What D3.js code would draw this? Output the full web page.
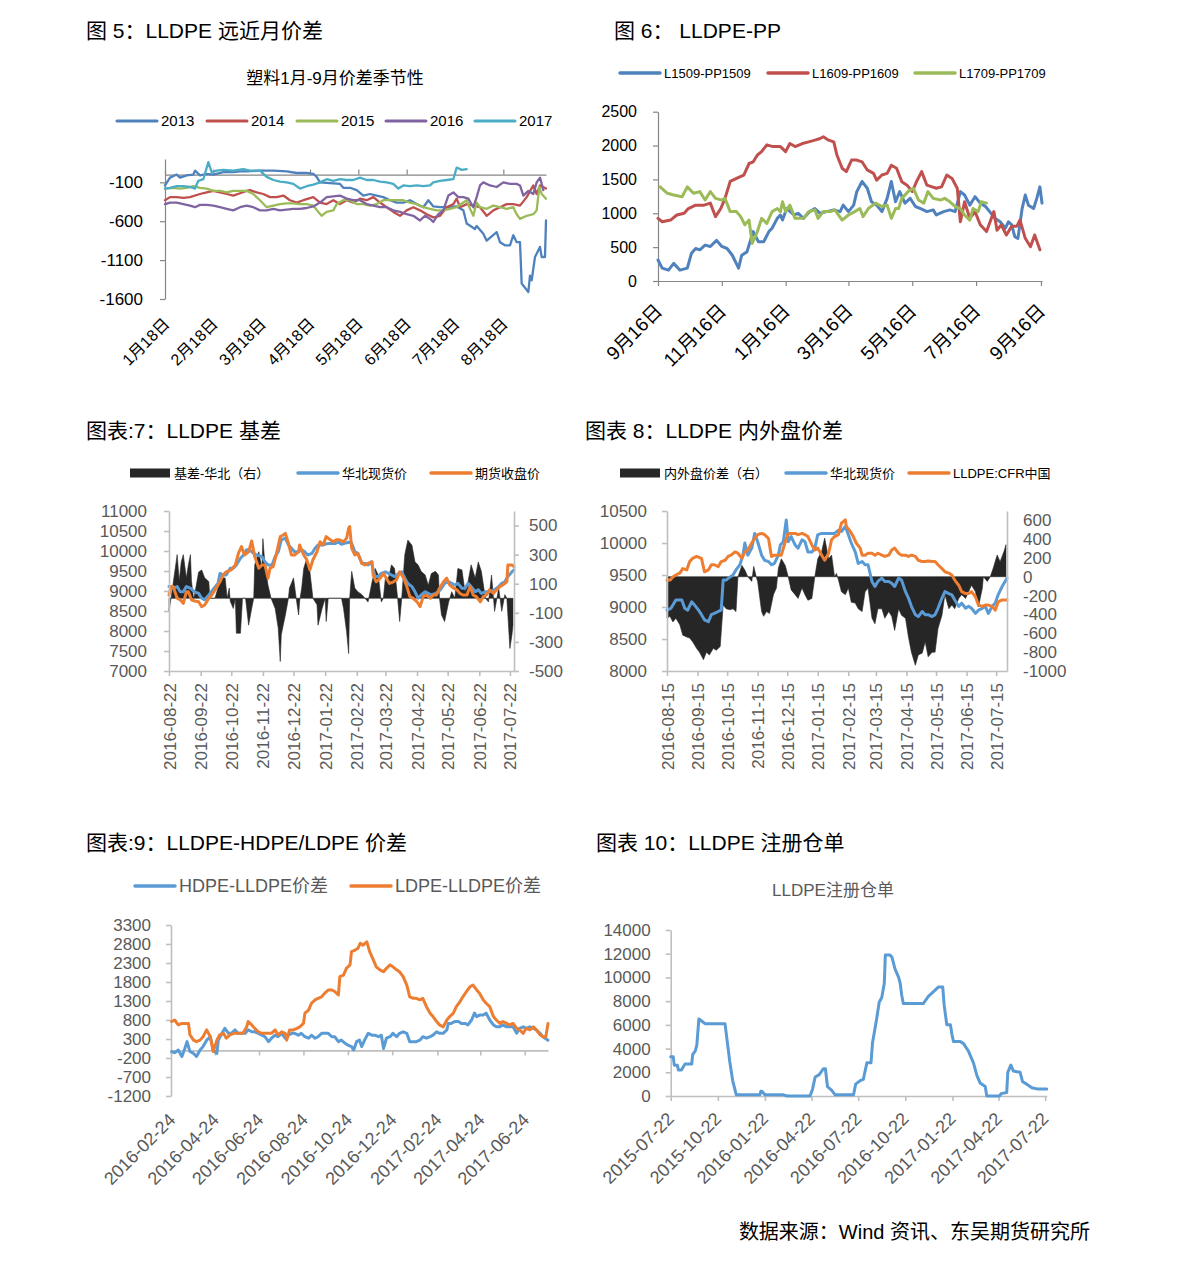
<!DOCTYPE html>
<html><head><meta charset="utf-8">
<script src="https://cdn.jsdelivr.net/npm/d3@7"></script>
<style>body{margin:0;background:#fff}</style>
</head><body>
<svg id="c" width="1191" height="1264"></svg>
<script>
// ---------------- DATA ----------------
// Panel 1 (图5): x = trading-day index from 1月18日, value = 1月-9月 spread
const p1Series = ["2013","2014","2015","2016","2017"];
const p1XTickIdx = [0,29,58,87,116,145,174,203];
const p1XLabels = ["1月18日","2月18日","3月18日","4月18日","5月18日","6月18日","7月18日","8月18日"];
const p1YTicks = [-1600,-1100,-600,-100];
const s2013 = [[0,-140],[3,-40],[7,0],[9,-40],[13,-10],[17,0],[18,50],[21,-10],[25,10],[29,0],[35,30],[41,30],[45,40],[49,40],[57,50],[65,50],[73,40],[79,20],[85,20],[89,10],[91,-30],[93,-100],[99,-110],[105,-120],[107,-170],[111,-170],[115,-200],[119,-270],[123,-250],[127,-270],[131,-290],[135,-330],[139,-360],[143,-360],[147,-330],[151,-380],[155,-420],[158,-330],[161,-410],[165,-420],[169,-420],[175,-410],[179,-460],[181,-630],[186,-700],[187,-660],[191,-760],[193,-850],[199,-740],[201,-870],[204,-910],[207,-910],[209,-780],[211,-870],[213,-870],[214,-1400],[218,-1510],[219,-1300],[220,-1360],[222,-1060],[225,-930],[226,-1060],[228,-1060],[228.6,-590]];
const s2014 = [[0,-330],[3,-290],[7,-290],[11,-300],[15,-290],[21,-250],[25,-230],[29,-210],[33,-230],[37,-250],[41,-270],[45,-240],[49,-210],[51,-200],[55,-230],[59,-250],[63,-290],[67,-290],[71,-270],[75,-330],[79,-360],[83,-330],[89,-290],[93,-360],[97,-380],[101,-330],[105,-380],[109,-330],[113,-360],[117,-310],[121,-330],[125,-290],[129,-360],[133,-420],[137,-480],[141,-530],[145,-460],[149,-420],[153,-460],[157,-510],[161,-550],[165,-530],[169,-420],[173,-380],[175,-310],[177,-420],[181,-380],[185,-400],[189,-420],[193,-530],[197,-460],[201,-420],[205,-380],[209,-380],[213,-400],[217,-290],[221,-140],[223,-250],[225,-140],[228.6,-180]];
const s2015 = [[0,-180],[5,-170],[9,-180],[13,-170],[17,-150],[21,-170],[25,-180],[29,-210],[33,-210],[37,-230],[41,-210],[45,-210],[49,-210],[53,-250],[57,-330],[61,-420],[65,-400],[69,-380],[73,-370],[77,-370],[81,-380],[85,-380],[89,-400],[92,-480],[94,-530],[97,-480],[101,-460],[103,-380],[107,-330],[111,-330],[115,-380],[119,-380],[123,-400],[127,-380],[131,-330],[135,-330],[139,-330],[143,-330],[147,-360],[151,-380],[155,-420],[159,-440],[163,-460],[167,-460],[171,-440],[175,-420],[179,-360],[181,-330],[183,-440],[185,-530],[187,-360],[189,-420],[193,-440],[197,-400],[201,-420],[205,-440],[209,-420],[211,-510],[213,-570],[217,-530],[221,-510],[223,-460],[224.6,-160],[226,-250],[228.6,-310]];
const s2016 = [[0,-380],[3,-360],[7,-360],[11,-380],[15,-400],[18,-420],[21,-390],[25,-390],[29,-400],[33,-420],[37,-440],[41,-460],[45,-420],[49,-400],[53,-420],[57,-460],[61,-460],[65,-440],[69,-460],[73,-450],[77,-440],[81,-440],[85,-430],[89,-410],[93,-360],[97,-290],[101,-280],[105,-270],[109,-310],[113,-330],[117,-330],[121,-380],[125,-400],[129,-420],[133,-420],[137,-460],[141,-480],[145,-510],[149,-530],[153,-590],[156,-530],[159,-570],[161,-610],[164,-510],[167,-460],[170,-270],[173,-230],[176,-290],[179,-290],[182,-310],[185,-420],[187,-290],[189,-140],[191,-100],[195,-140],[199,-160],[203,-100],[207,-120],[211,-120],[213,-140],[215,-270],[218,-210],[221,-250],[223,-100],[225,-40],[227,-200]];
const s2017 = [[0,-180],[3,-170],[7,-150],[11,-150],[15,-160],[18,-180],[20,-80],[23,-60],[26,160],[28,30],[31,50],[35,60],[41,50],[47,70],[51,50],[57,50],[61,-30],[65,-70],[69,-90],[73,-100],[77,-120],[81,-180],[85,-150],[89,-130],[93,-100],[97,-60],[101,-80],[105,-60],[109,-70],[113,-70],[117,-40],[121,-70],[125,-70],[129,-90],[133,-100],[137,-120],[140,-180],[143,-140],[147,-150],[151,-140],[155,-150],[159,-140],[161,-100],[165,-80],[169,-70],[173,-60],[175,90],[178,60],[181,70]];

// Panel 2 (图6): x = days after 2015-09-16
const p2Start = "2015-09-16";
const p2Series = ["L1509-PP1509","L1609-PP1609","L1709-PP1709"];
const p2XTicks = ["2015-09-16","2015-11-16","2016-01-16","2016-03-16","2016-05-16","2016-07-16","2016-09-16"];
const p2XLabels = ["9月16日","11月16日","1月16日","3月16日","5月16日","7月16日","9月16日"];
const p2YTicks = [0,500,1000,1500,2000,2500];
const l1509 = [[0,310],[4,190],[10,160],[15,260],[21,160],[28,190],[32,410],[36,480],[40,460],[45,530],[50,510],[56,600],[61,510],[66,480],[71,380],[77,190],[80,380],[85,430],[88,580],[91,730],[96,580],[101,580],[106,730],[109,780],[114,925],[117,975],[119,900],[123,1070],[130,975],[134,1000],[139,925],[145,1025],[150,1070],[155,1000],[161,1025],[168,1050],[174,1025],[177,1120],[182,1025],[187,1120],[190,1320],[195,1470],[200,1370],[204,1170],[209,1120],[214,1025],[219,1220],[223,1470],[227,1170],[231,1320],[236,1150],[241,1220],[246,1100],[251,1070],[257,1025],[263,1050],[266,975],[273,1025],[279,1050],[284,1025],[289,1320],[293,1270],[298,1120],[303,1245],[308,1150],[313,1100],[317,1025],[322,925],[327,875],[332,780],[335,875],[338,830],[341,655],[344,630],[348,1070],[351,1270],[354,1120],[359,1070],[362,1220],[365,1390],[367,1150]];
const l1609 = [[0,925],[4,875],[12,900],[18,975],[25,1000],[29,1070],[36,1120],[44,1120],[50,1150],[55,950],[60,1070],[64,1220],[69,1470],[75,1515],[82,1565],[87,1735],[91,1760],[95,1860],[99,1910],[104,2010],[110,1985],[117,1985],[122,1910],[126,2030],[131,1985],[138,2030],[144,2055],[150,2080],[155,2105],[158,2130],[163,2080],[168,2055],[171,1860],[176,1665],[180,1615],[185,1785],[190,1785],[195,1760],[200,1640],[206,1590],[209,1490],[214,1565],[219,1590],[223,1710],[228,1665],[233,1465],[238,1415],[243,1320],[247,1465],[252,1615],[257,1415],[262,1390],[266,1370],[271,1390],[276,1565],[281,1515],[286,1370],[289,875],[293,1170],[298,925],[303,1025],[308,830],[314,730],[321,1025],[324,750],[328,830],[333,680],[338,810],[343,810],[346,900],[351,630],[356,505],[360,680],[365,460]];
const l1709 = [[2,1390],[9,1295],[15,1270],[23,1245],[28,1390],[34,1295],[40,1320],[45,1195],[50,1320],[55,1220],[61,1195],[64,1220],[69,1025],[75,1025],[79,950],[83,830],[87,900],[90,555],[95,730],[99,925],[104,850],[109,1025],[114,1070],[117,1025],[119,1170],[122,1025],[126,1120],[131,925],[139,925],[144,1025],[150,1050],[153,925],[158,1025],[165,1025],[169,1050],[176,900],[182,975],[188,1025],[193,1070],[196,950],[201,1070],[208,1150],[214,1100],[219,1120],[223,925],[227,1070],[230,1070],[233,1220],[239,1320],[244,1370],[249,1195],[254,1150],[258,1320],[263,1220],[270,1195],[274,1220],[279,1170],[284,1100],[289,1070],[293,975],[298,900],[301,1070],[306,1025],[309,1170],[314,1150]];

// Panel 3 (图表7): x = days after 2016-08-22
const p3Start = "2016-08-22";
const p3Series = ["基差-华北（右）","华北现货价","期货收盘价"];
const p3XTicks = ["2016-08-22","2016-09-22","2016-10-22","2016-11-22","2016-12-22","2017-01-22","2017-02-22","2017-03-22","2017-04-22","2017-05-22","2017-06-22","2017-07-22"];
const p3YLeftTicks = [7000,7500,8000,8500,9000,9500,10000,10500,11000];
const p3YRightTicks = [-500,-300,-100,100,300,500];
const p3Spot = [[0,9110],[4,9070],[8,9110],[11,8980],[14,8980],[17,9110],[21,9070],[25,8980],[29,8940],[32,8820],[35,8780],[39,8900],[43,9030],[48,9190],[50,9440],[53,9400],[56,9400],[60,9570],[63,9570],[66,9650],[70,9820],[73,9900],[76,10030],[79,10030],[83,9940],[86,9900],[91,9860],[94,9730],[97,9650],[101,9650],[104,9860],[107,9980],[110,10280],[114,10320],[117,10150],[120,10070],[123,9980],[127,9980],[130,10030],[133,9980],[136,9900],[140,9940],[143,10070],[146,10150],[150,10150],[153,10170],[156,10190],[159,10190],[163,10190],[166,10220],[169,10170],[172,10190],[176,10220],[179,10190],[182,9980],[185,9940],[189,9690],[192,9690],[195,9650],[198,9730],[202,9360],[205,9360],[208,9440],[212,9480],[215,9440],[218,9400],[221,9360],[225,9440],[228,9480],[231,9320],[234,9190],[238,9110],[241,8980],[244,8820],[247,8900],[251,8980],[254,8940],[257,8900],[261,8940],[264,8980],[267,9070],[270,9190],[274,9230],[277,9190],[280,9150],[283,9190],[287,9070],[290,9070],[293,9190],[296,9110],[300,8980],[303,9030],[306,8940],[310,8980],[313,8980],[316,9000],[319,9030],[323,9110],[326,9190],[329,9230],[332,9360],[336,9480],[338,9530]];
const p3Fut = [[0,8900],[2,9110],[4,9110],[8,8820],[11,8780],[14,8690],[17,8980],[19,8980],[22,8780],[25,8750],[29,8730],[32,8610],[35,8650],[39,8820],[42,8900],[47,9110],[50,9230],[53,9400],[56,9480],[61,9530],[65,9650],[68,9940],[71,10110],[74,9900],[78,9980],[81,10250],[84,9860],[88,9570],[91,9650],[94,9650],[97,9320],[99,9570],[102,9610],[105,9900],[109,10360],[112,10400],[114,10440],[117,10190],[120,9900],[123,9900],[127,9980],[128,10150],[132,9900],[135,9780],[138,9530],[141,9780],[145,9980],[148,10230],[151,10150],[154,10360],[158,10280],[161,10230],[164,10280],[167,10280],[171,10230],[174,10320],[176,10570],[177,10610],[179,10070],[182,9900],[185,9940],[189,9690],[192,9650],[195,9690],[199,9730],[200,9400],[203,9230],[207,9320],[210,9440],[213,9320],[216,9190],[220,9230],[223,9280],[226,9480],[230,9320],[233,9110],[236,8860],[239,8820],[243,8730],[246,8610],[249,8860],[252,8900],[256,8820],[259,8900],[262,8900],[265,9070],[269,9230],[272,9320],[275,9150],[279,9070],[282,9030],[285,8940],[288,8900],[292,8900],[293,8980],[295,9110],[298,8900],[301,8860],[305,8730],[308,8860],[311,8900],[314,9030],[318,8940],[321,9030],[324,9110],[327,9150],[331,9230],[332,9650],[336,9650],[338,9610]];
const p3Basis = [[0,-90],[2,0],[8,300],[10,120],[12,250],[14,300],[17,140],[19,230],[21,300],[22,120],[24,0],[25,20],[29,180],[32,195],[35,140],[39,115],[40,0],[45,0],[48,70],[52,140],[55,140],[57,0],[59,70],[60,-20],[63,-70],[65,0],[66,-240],[70,-240],[72,0],[75,0],[78,-185],[81,-70],[83,0],[84,230],[88,320],[91,205],[92,410],[94,230],[97,90],[100,0],[104,-70],[107,-205],[109,-435],[110,-250],[114,-115],[117,0],[118,70],[122,140],[125,-20],[127,-115],[128,-20],[130,70],[132,205],[135,275],[138,185],[141,0],[145,-45],[146,-185],[150,-70],[153,0],[154,-160],[156,0],[169,0],[171,-70],[174,-230],[176,-380],[177,0],[179,185],[182,70],[185,45],[189,25],[192,0],[195,-25],[199,115],[202,205],[205,160],[208,-25],[210,0],[212,140],[215,140],[218,230],[221,205],[224,0],[226,-160],[228,0],[231,300],[234,400],[238,365],[241,250],[244,230],[247,185],[251,160],[254,90],[257,170],[261,185],[264,160],[265,0],[267,-115],[270,-160],[274,-25],[277,45],[280,0],[283,205],[287,195],[290,45],[293,115],[296,230],[300,140],[303,250],[306,185],[310,0],[313,-25],[316,160],[319,-90],[323,70],[326,-90],[329,25],[331,0],[334,-345],[336,-250],[337,-185]];

// Panel 4 (图表8): x = days after 2016-08-15
const p4Start = "2016-08-15";
const p4Series = ["内外盘价差（右）","华北现货价","LLDPE:CFR中国"];
const p4XTicks = ["2016-08-15","2016-09-15","2016-10-15","2016-11-15","2016-12-15","2017-01-15","2017-02-15","2017-03-15","2017-04-15","2017-05-15","2017-06-15","2017-07-15"];
const p4YLeftTicks = [8000,8500,9000,9500,10000,10500];
const p4YRightTicks = [-1000,-800,-600,-400,-200,0,200,400,600];
const p4Spot = [[0,8950],[4,8980],[9,9110],[15,9110],[18,8980],[21,8950],[25,9080],[28,9030],[32,8950],[35,8880],[38,8800],[42,8770],[45,8880],[48,8900],[52,8930],[55,8950],[57,9420],[60,9420],[64,9470],[67,9500],[70,9580],[74,9660],[77,9810],[79,10000],[82,9810],[86,9920],[89,10150],[92,10020],[96,9810],[99,9730],[103,9710],[106,9660],[109,9680],[113,9810],[115,9970],[118,10020],[121,10360],[123,10020],[126,10100],[130,9970],[133,9920],[137,10050],[140,10020],[143,9860],[147,9860],[150,9920],[153,10130],[157,10150],[160,10150],[164,10150],[167,10150],[170,10150],[174,10200],[177,10180],[181,10260],[184,10130],[187,10000],[191,9860],[194,9680],[198,9710],[201,9660],[204,9660],[208,9400],[211,9320],[214,9400],[218,9450],[221,9400],[225,9400],[228,9370],[231,9320],[235,9450],[238,9420],[242,9240],[245,9140],[248,9010],[252,8880],[255,8850],[259,8930],[262,8880],[265,8880],[269,8850],[272,8880],[275,8980],[279,9140],[282,9240],[286,9210],[289,9190],[292,9110],[296,9010],[299,9060],[303,8980],[306,9010],[309,8980],[313,8900],[316,8950],[320,8980],[323,9010],[326,8900],[330,9010],[333,9060],[336,9190],[340,9320],[345,9450]];
const p4Cfr = [[0,9420],[3,9420],[6,9470],[9,9500],[13,9530],[16,9600],[20,9580],[23,9710],[26,9760],[30,9790],[35,9760],[38,9550],[42,9580],[45,9660],[48,9660],[52,9630],[55,9710],[59,9730],[62,9790],[65,9810],[69,9860],[72,9840],[76,9760],[79,9860],[82,9890],[86,10000],[89,10070],[92,10130],[96,10150],[99,10130],[103,10070],[106,9790],[109,9810],[113,9810],[116,9810],[120,10020],[123,10150],[126,10150],[130,10150],[133,10130],[137,10150],[140,10130],[143,10100],[147,9970],[150,9890],[153,9920],[157,9810],[160,9730],[164,9840],[167,10050],[170,10100],[174,10130],[177,10310],[181,10360],[182,10260],[186,10180],[189,10100],[192,10000],[196,9920],[198,9810],[201,9810],[204,9840],[208,9840],[211,9810],[214,9840],[218,9810],[221,9790],[225,9810],[228,9890],[231,9920],[235,9840],[238,9810],[242,9810],[245,9790],[248,9810],[252,9790],[255,9730],[259,9710],[262,9710],[265,9720],[269,9710],[272,9710],[275,9660],[279,9600],[282,9550],[286,9530],[289,9500],[292,9420],[296,9340],[299,9240],[303,9210],[306,9210],[309,9240],[313,9160],[316,9030],[320,9010],[323,9030],[326,9030],[330,9010],[333,8950],[336,9080],[340,9110],[345,9110]];
const p4Diff = [[0,-440],[3,-420],[6,-480],[9,-440],[13,-510],[16,-620],[20,-640],[23,-650],[26,-690],[30,-760],[33,-800],[37,-880],[40,-800],[43,-830],[47,-760],[50,-780],[54,-740],[57,-300],[60,-340],[64,-350],[67,-340],[70,-370],[72,0],[76,120],[79,70],[82,0],[86,-50],[88,110],[91,-20],[92,-50],[96,-370],[98,-420],[101,-370],[104,-390],[108,-190],[111,-120],[113,90],[116,190],[120,120],[123,0],[126,-140],[130,-190],[133,-230],[137,-120],[140,-190],[143,-250],[147,-230],[150,0],[153,190],[157,270],[160,410],[164,190],[167,230],[170,0],[172,35],[174,-35],[177,-160],[181,-190],[184,-120],[187,-270],[191,-280],[194,-340],[198,-370],[201,-160],[204,-120],[208,-440],[211,-500],[214,-340],[218,-340],[221,-440],[225,-370],[228,-420],[231,-570],[235,-340],[238,-410],[242,-440],[245,-640],[248,-800],[252,-940],[255,-830],[259,-810],[262,-690],[265,-850],[269,-800],[272,-800],[275,-550],[279,-410],[282,-190],[286,-340],[289,-300],[292,-340],[296,-230],[299,-190],[303,-230],[306,-160],[309,-90],[313,-160],[316,-320],[320,-120],[321,0],[325,-50],[328,0],[331,90],[335,230],[338,160],[342,270],[344,340]];

// Panel 5 (图表9): x = days after 2016-02-24
const p5Start = "2016-02-24";
const p5Series = ["HDPE-LLDPE价差","LDPE-LLDPE价差"];
const p5XTicks = ["2016-02-24","2016-04-24","2016-06-24","2016-08-24","2016-10-24","2016-12-24","2017-02-24","2017-04-24","2017-06-24"];
const p5YTicks = [-1200,-700,-200,300,800,1300,1800,2300,2800,3300];
const p5Hdpe = [[1,-30],[5,-60],[10,10],[15,-160],[19,50],[22,230],[26,-30],[31,-80],[35,-160],[40,10],[44,100],[49,270],[54,360],[58,10],[63,-80],[65,270],[70,450],[74,580],[79,450],[83,450],[88,540],[92,450],[97,450],[102,450],[106,540],[111,490],[115,490],[120,450],[125,400],[129,360],[134,230],[138,320],[143,400],[147,360],[152,450],[157,320],[161,400],[166,450],[170,450],[175,400],[179,450],[184,360],[189,320],[193,400],[198,320],[202,360],[207,450],[211,450],[216,450],[221,360],[225,360],[230,230],[234,270],[239,190],[243,140],[248,100],[251,10],[255,230],[259,270],[262,100],[266,270],[271,450],[276,400],[280,400],[285,360],[289,400],[292,50],[296,320],[301,360],[305,450],[310,360],[314,450],[319,490],[324,450],[328,230],[333,230],[337,230],[342,270],[346,360],[351,320],[356,360],[360,400],[365,490],[369,450],[374,450],[379,540],[381,710],[385,710],[390,760],[395,760],[399,710],[404,710],[408,670],[413,800],[417,980],[420,890],[424,930],[429,930],[433,980],[438,800],[443,670],[447,620],[452,620],[456,670],[461,620],[465,620],[470,620],[475,450],[479,580],[484,620],[488,580],[493,620],[498,580],[502,540],[507,450],[511,360],[518,270]];
const p5Ldpe = [[1,760],[5,800],[10,670],[15,710],[19,710],[24,710],[26,410],[31,270],[35,230],[40,270],[44,360],[49,540],[54,360],[58,-30],[63,270],[67,410],[72,450],[76,320],[81,410],[86,450],[90,450],[95,450],[99,450],[104,620],[106,760],[111,670],[115,580],[120,490],[125,450],[129,450],[134,450],[138,450],[143,540],[147,410],[152,490],[157,450],[159,270],[163,540],[168,540],[173,580],[177,620],[182,710],[184,980],[189,1060],[193,1240],[198,1330],[202,1370],[207,1410],[211,1500],[216,1590],[221,1590],[225,1550],[230,1460],[232,1940],[237,1980],[241,2160],[246,2250],[248,2600],[253,2640],[257,2690],[260,2820],[264,2770],[269,2860],[273,2600],[278,2380],[282,2200],[287,2120],[292,2070],[296,2160],[301,2250],[305,2200],[310,2120],[314,2070],[319,1940],[324,1720],[328,1410],[333,1370],[337,1370],[342,1330],[346,1370],[351,1150],[356,980],[360,890],[365,760],[369,670],[374,620],[379,800],[383,890],[388,980],[392,1150],[397,1280],[401,1410],[406,1550],[411,1680],[415,1720],[420,1590],[424,1500],[429,1330],[433,1240],[438,1150],[443,890],[447,800],[452,710],[456,760],[461,710],[465,670],[470,710],[475,580],[479,540],[484,450],[488,580],[493,540],[498,620],[502,540],[507,410],[511,360],[515,360],[518,710]];

// Panel 6 (图表10): x = days after 2015-07-22
const p6Start = "2015-07-22";
const p6XTicks = ["2015-07-22","2015-10-22","2016-01-22","2016-04-22","2016-07-22","2016-10-22","2017-01-22","2017-04-22","2017-07-22"];
const p6YTicks = [0,2000,4000,6000,8000,10000,12000,14000];
const p6Receipts = [[0,3300],[5,3300],[7,2600],[13,2600],[15,2200],[21,2200],[28,2700],[41,2700],[43,3500],[48,3800],[51,4300],[55,6500],[61,6300],[67,6100],[106,6100],[115,3000],[121,1300],[128,100],[174,100],[176,400],[178,400],[184,100],[220,100],[227,0],[272,0],[277,600],[282,1600],[290,1800],[298,2300],[302,2300],[306,800],[314,500],[321,100],[357,100],[361,1000],[370,1300],[376,1400],[383,2800],[391,2800],[394,4500],[402,6500],[407,7900],[412,8300],[417,9500],[419,11900],[428,11900],[432,11700],[438,10700],[445,10000],[448,9500],[451,8500],[454,7800],[493,7800],[503,8400],[513,8800],[523,9200],[531,9200],[534,7600],[539,6000],[546,6000],[549,5200],[552,4600],[565,4600],[572,4400],[581,3800],[591,2800],[598,1700],[604,1100],[614,800],[617,0],[642,0],[645,200],[656,300],[658,2000],[664,2600],[669,2100],[682,2000],[687,1200],[695,1000],[705,700],[715,600],[734,600]];

// ---------------- DRAWING ----------------
const FONT = '"Liberation Sans", Arial, "Noto Sans CJK SC", sans-serif';
const svg = d3.select('#c');
svg.append('rect').attr('width',1191).attr('height',1264).attr('fill','#fff');
const utc = s => { const [y,m,d] = s.split('-').map(Number); return new Date(Date.UTC(y,m-1,d)); };
const day = (start, d) => d3.utcDay.offset(utc(start), d);

function text(x, y, s, o = {}) {
  return svg.append('text').attr('x', x).attr('y', y).text(s)
    .attr('font-family', FONT).attr('font-size', o.size || 16)
    .attr('fill', o.fill || '#000').attr('text-anchor', o.anchor || 'start');
}
function styleAxis(g, color, tcolor, size, w) {
  g.attr('font-family', FONT).attr('font-size', size);
  g.select('.domain').attr('stroke', color).attr('stroke-width', w || 1.3);
  g.selectAll('.tick line').attr('stroke', color).attr('stroke-width', w || 1.3);
  g.selectAll('.tick text').attr('fill', tcolor);
}
function legendLine(x1, x2, y, color, w, label, size, fill) {
  svg.append('line').attr('x1', x1).attr('x2', x2).attr('y1', y).attr('y2', y)
    .attr('stroke', color).attr('stroke-width', w).attr('stroke-linecap', 'round');
  text(x2 + 4, y + size * 0.36, label, { size, fill });
}
function legendRect(x1, x2, y, color, label, size, fill) {
  svg.append('rect').attr('x', x1).attr('y', y - 4.5).attr('width', x2 - x1).attr('height', 9).attr('fill', color);
  text(x2 + 4, y + size * 0.36, label, { size, fill });
}
function line(data, xs, ys, color, w, xf) {
  svg.append('path').datum(data).attr('fill', 'none').attr('stroke', color)
    .attr('stroke-width', w).attr('stroke-linejoin', 'round').attr('stroke-linecap', 'round')
    .attr('d', d3.line().x(d => xs(xf ? xf(d[0]) : d[0])).y(d => ys(d[1])));
}
function area(data, xs, ys, color, xf) {
  svg.append('path').datum(data).attr('fill', color).attr('stroke', color).attr('stroke-width', 0.6)
    .attr('d', d3.area().x(d => xs(xf(d[0]))).y0(ys(0)).y1(d => ys(d[1])));
}
function rotLabels(g, tx, ty, ang) {
  g.select('.domain').remove();
  g.selectAll('.tick text').attr('x', 0).attr('y', 0).attr('dy', 0)
    .attr('text-anchor', 'end').attr('transform', `translate(${tx},${ty}) rotate(${ang})`);
}

// Titles & footer
text(86, 38, '图 5：LLDPE 远近月价差', { size: 21 });
text(614, 38, '图 6：  LLDPE-PP', { size: 21 });
text(86, 438, '图表:7：LLDPE 基差', { size: 21 });
text(585, 438, '图表 8：LLDPE 内外盘价差', { size: 21 });
text(86, 850, '图表:9：LLDPE-HDPE/LDPE 价差', { size: 21 });
text(596, 850, '图表 10：LLDPE 注册仓单', { size: 21 });
text(1090, 1239, '数据来源：Wind 资讯、东吴期货研究所', { size: 20, anchor: 'end' });

// ===== Panel 1 =====
{
  const cols = ['#4F81BD', '#C0504D', '#9BBB59', '#8064A2', '#4BACC6'];
  text(335, 84, '塑料1月-9月价差季节性', { size: 17, anchor: 'middle' });
  const lx = [117, 207, 297, 386, 475];
  p1Series.forEach((s, i) => legendLine(lx[i], lx[i] + 40, 121, cols[i], 3, s, 15, '#000'));
  const x = d3.scaleLinear().domain([0, 228.6]).range([165, 546]);
  const y = d3.scaleLinear().domain([-1600, 200]).range([299, 159]);
  const ga = svg.append('g').attr('transform', 'translate(165,0)')
    .call(d3.axisLeft(y).tickValues(p1YTicks).tickSize(5).tickSizeOuter(0).tickPadding(17).tickFormat(d3.format('d')));
  styleAxis(ga, '#868686', '#000', 17, 1.2);
  ga.selectAll('.tick text').text(d => String(d));
  const gx = svg.append('g').attr('transform', `translate(0,${y(0)})`)
    .call(d3.axisTop(x).tickValues(p1XTickIdx).tickSize(5).tickSizeOuter(0).tickFormat(''));
  styleAxis(gx, '#868686', '#000', 15, 1.2);
  const gl = svg.append('g').attr('transform', 'translate(0,299)')
    .call(d3.axisBottom(x).tickValues(p1XTickIdx).tickSize(0).tickFormat((d, i) => p1XLabels[i]));
  styleAxis(gl, '#868686', '#000', 16);
  rotLabels(gl, 5, 26, -45);
  [s2013, s2014, s2015, s2016, s2017].forEach((s, i) => line(s, x, y, cols[i], 2.3));
}

// ===== Panel 2 =====
{
  const cols = ['#4F81BD', '#C0504D', '#9BBB59'];
  const lx = [620, 768, 915];
  p2Series.forEach((s, i) => legendLine(lx[i], lx[i] + 40, 73, cols[i], 3.5, s, 13, '#000'));
  const x = d3.scaleUtc().domain([utc('2015-09-16'), utc('2016-09-17')]).range([658, 1042]);
  const y = d3.scaleLinear().domain([0, 2500]).range([281, 111.7]);
  const ga = svg.append('g').attr('transform', 'translate(658,0)')
    .call(d3.axisLeft(y).tickValues(p2YTicks).tickSize(5).tickSizeOuter(0).tickPadding(16).tickFormat(d3.format('d')));
  styleAxis(ga, '#868686', '#000', 16, 1.2);
  const gx = svg.append('g').attr('transform', 'translate(0,281)')
    .call(d3.axisBottom(x).tickValues(p2XTicks.map(utc)).tickSize(5).tickSizeOuter(0).tickFormat((d, i) => p2XLabels[i]));
  styleAxis(gx, '#868686', '#000', 19, 1.2);
  gx.selectAll('.tick text').attr('x', 0).attr('y', 0).attr('dy', 0).attr('text-anchor', 'end')
    .attr('transform', 'translate(5,31) rotate(-45)');
  const xf = d => day(p2Start, d);
  [l1509, l1609, l1709].forEach((s, i) => line(s, x, y, cols[i], 3, xf));
}

// ===== Panel 3 =====
{
  legendRect(130, 170, 473, '#262626', p3Series[0], 13, '#000');
  legendLine(298, 338, 473, '#5B9BD5', 3.5, p3Series[1], 13, '#000');
  legendLine(431, 471, 473, '#ED7D31', 3.5, p3Series[2], 13, '#000');
  const x = d3.scaleUtc().domain([utc('2016-08-22'), utc('2017-07-26')]).range([169, 514]);
  const yl = d3.scaleLinear().domain([7000, 11000]).range([671, 511]);
  const yr = d3.scaleLinear().domain([-500, 600]).range([671, 511]);
  const xf = d => day(p3Start, d);
  area(p3Basis, x, yr, '#262626', xf);
  line(p3Spot, x, yl, '#5B9BD5', 3, xf);
  line(p3Fut, x, yl, '#ED7D31', 3, xf);
  const ga = svg.append('g').attr('transform', 'translate(169,0)')
    .call(d3.axisLeft(yl).tickValues(p3YLeftTicks).tickSize(5).tickSizeOuter(0).tickPadding(17));
  styleAxis(ga, '#BFBFBF', '#595959', 17, 1.6);
  ga.selectAll('.tick text').text(d => String(d));
  const gr = svg.append('g').attr('transform', 'translate(514,0)')
    .call(d3.axisRight(yr).tickValues(p3YRightTicks).tickSize(5).tickSizeOuter(0).tickPadding(10));
  styleAxis(gr, '#BFBFBF', '#595959', 17, 1.6);
  gr.selectAll('.tick text').text(d => String(d));
  const gx = svg.append('g').attr('transform', 'translate(0,671)')
    .call(d3.axisBottom(x).tickValues(p3XTicks.map(utc)).tickSize(5).tickSizeOuter(0).tickFormat(d3.utcFormat('%Y-%m-%d')));
  styleAxis(gx, '#BFBFBF', '#595959', 17, 1.6);
  gx.selectAll('.tick text').attr('x', 0).attr('y', 0).attr('dy', 0).attr('text-anchor', 'end')
    .attr('transform', 'translate(6,12) rotate(-90)');
}

// ===== Panel 4 =====
{
  legendRect(620, 660, 473, '#262626', p4Series[0], 13, '#000');
  legendLine(786, 826, 473, '#5B9BD5', 3.5, p4Series[1], 13, '#000');
  legendLine(909, 949, 473, '#ED7D31', 3.5, p4Series[2], 13, '#000');
  const x = d3.scaleUtc().domain([utc('2016-08-15'), utc('2017-07-26')]).range([667, 1007]);
  const yl = d3.scaleLinear().domain([8000, 10500]).range([671, 511]);
  const yr = d3.scaleLinear().domain([-1000, 697]).range([671, 511]);
  const xf = d => day(p4Start, d);
  area(p4Diff, x, yr, '#262626', xf);
  line(p4Spot, x, yl, '#5B9BD5', 3, xf);
  line(p4Cfr, x, yl, '#ED7D31', 3, xf);
  const ga = svg.append('g').attr('transform', 'translate(667,0)')
    .call(d3.axisLeft(yl).tickValues(p4YLeftTicks).tickSize(5).tickSizeOuter(0).tickPadding(15));
  styleAxis(ga, '#BFBFBF', '#595959', 17, 1.6);
  ga.selectAll('.tick text').text(d => String(d));
  const gr = svg.append('g').attr('transform', 'translate(1007,0)')
    .call(d3.axisRight(yr).tickValues(p4YRightTicks).tickSize(0).tickSizeOuter(0).tickPadding(16));
  styleAxis(gr, '#BFBFBF', '#595959', 17, 1.6);
  gr.selectAll('.tick text').text(d => String(d));
  const gx = svg.append('g').attr('transform', 'translate(0,671)')
    .call(d3.axisBottom(x).tickValues(p4XTicks.map(utc)).tickSize(5).tickSizeOuter(0).tickFormat(d3.utcFormat('%Y-%m-%d')));
  styleAxis(gx, '#BFBFBF', '#595959', 17, 1.6);
  gx.selectAll('.tick text').attr('x', 0).attr('y', 0).attr('dy', 0).attr('text-anchor', 'end')
    .attr('transform', 'translate(6,12) rotate(-90)');
}

// ===== Panel 5 =====
{
  legendLine(135, 175, 886, '#5B9BD5', 3.5, p5Series[0], 18, '#595959');
  legendLine(351, 391, 886, '#ED7D31', 3.5, p5Series[1], 18, '#595959');
  const x = d3.scaleUtc().domain([utc('2016-02-24'), utc('2017-07-26')]).range([171, 548]);
  const y = d3.scaleLinear().domain([-1200, 3300]).range([1096, 925]);
  const xf = d => day(p5Start, d);
  const ga = svg.append('g').attr('transform', 'translate(171,0)')
    .call(d3.axisLeft(y).tickValues(p5YTicks).tickSize(5).tickSizeOuter(0).tickPadding(15));
  styleAxis(ga, '#BFBFBF', '#595959', 17, 1.6);
  ga.selectAll('.tick text').text(d => String(d));
  const gx = svg.append('g').attr('transform', `translate(0,${y(0)})`)
    .call(d3.axisBottom(x).tickValues(p5XTicks.map(utc)).tickSize(5).tickSizeOuter(0).tickFormat(''));
  styleAxis(gx, '#BFBFBF', '#595959', 17, 1.6);
  const gl = svg.append('g').attr('transform', 'translate(0,1096)')
    .call(d3.axisBottom(x).tickValues(p5XTicks.map(utc)).tickSize(0).tickFormat(d3.utcFormat('%Y-%m-%d')));
  styleAxis(gl, '#BFBFBF', '#595959', 18);
  rotLabels(gl, 5, 25, -45);
  line(p5Hdpe, x, y, '#5B9BD5', 3, xf);
  line(p5Ldpe, x, y, '#ED7D31', 3, xf);
}

// ===== Panel 6 =====
{
  text(833, 896, 'LLDPE注册仓单', { size: 17, anchor: 'middle', fill: '#595959' });
  const x = d3.scaleUtc().domain([utc('2015-07-22'), utc('2017-07-25')]).range([670.7, 1046.7]);
  const y = d3.scaleLinear().domain([0, 14000]).range([1096, 930]);
  const xf = d => day(p6Start, d);
  const ga = svg.append('g').attr('transform', 'translate(670.7,0)')
    .call(d3.axisLeft(y).tickValues(p6YTicks).tickSize(5).tickSizeOuter(0).tickPadding(15));
  styleAxis(ga, '#BFBFBF', '#595959', 17, 1.6);
  ga.selectAll('.tick text').text(d => String(d));
  const gx = svg.append('g').attr('transform', 'translate(0,1096)')
    .call(d3.axisBottom(x).tickValues(p6XTicks.map(utc)).tickSize(5).tickSizeOuter(0).tickFormat(d3.utcFormat('%Y-%m-%d')));
  styleAxis(gx, '#BFBFBF', '#595959', 18, 1.6);
  gx.selectAll('.tick text').attr('x', 0).attr('y', 0).attr('dy', 0).attr('text-anchor', 'end')
    .attr('transform', 'translate(4,24) rotate(-45)');
  line(p6Receipts, x, y, '#5B9BD5', 3, xf);
}
</script>
</body></html>
